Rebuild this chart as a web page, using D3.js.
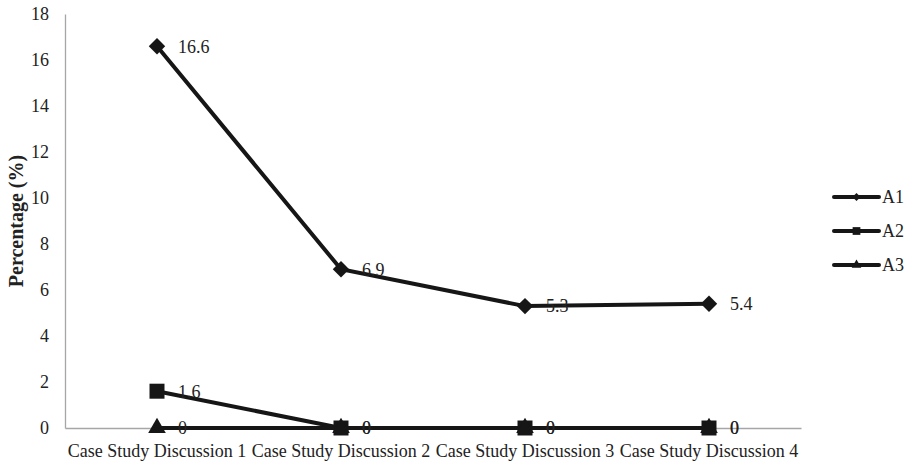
<!DOCTYPE html>
<html>
<head>
<meta charset="utf-8">
<script src="https://cdn.jsdelivr.net/npm/d3@7"></script>
<style>
  body { margin: 0; background: #fff; }
  svg { display: block; }
  svg text { font-family: "Liberation Serif", "Times New Roman", "DejaVu Serif", serif !important; }
</style>
</head>
<body>
<svg id="chart" width="910" height="461"></svg>
<script>
// Categories and series values
const categories = ["Case Study Discussion 1", "Case Study Discussion 2", "Case Study Discussion 3", "Case Study Discussion 4"];
const seriesNames = ["A1", "A2", "A3"];
const a1Values = [16.6, 6.9, 5.3, 5.4];
const a2Values = [1.6, 0, 0, 0];
const a3Values = [0, 0, 0, 0];
const yTicks = [0, 2, 4, 6, 8, 10, 12, 14, 16, 18];

const series = [
  { name: seriesNames[0], values: a1Values, symbol: d3.symbolSquare, rotate: 45, size: 135, legendSize: 34 },
  { name: seriesNames[1], values: a2Values, symbol: d3.symbolSquare, rotate: 0, size: 225, legendSize: 60 },
  { name: seriesNames[2], values: a3Values, symbol: d3.symbolTriangle, rotate: 0, size: 135, legendSize: 40 }
];

const svg = d3.select("#chart");
const plotLeft = 65, plotRight = 801, plotTop = 14, plotBottom = 428;
const ink = "#161616";
const textColor = "#222";
const fontSize = 18;

const x = d3.scaleBand().domain(categories).range([plotLeft, plotRight]);
const y = d3.scaleLinear().domain([0, 18]).range([plotBottom, plotTop]);

// Y axis: line plus numeric labels
const yAxis = svg.append("g")
  .attr("transform", `translate(${plotLeft},0)`)
  .call(d3.axisLeft(y).tickValues(yTicks).tickSize(0).tickPadding(16));
yAxis.select(".domain").attr("stroke", "#a6a6a6").attr("stroke-width", 1.3);
yAxis.selectAll("text").attr("font-size", fontSize).attr("fill", textColor);

// X axis
const xAxis = svg.append("g")
  .attr("transform", `translate(0,${plotBottom})`)
  .call(d3.axisBottom(x).tickSize(0).tickPadding(16));
xAxis.select(".domain").attr("stroke", "#a6a6a6").attr("stroke-width", 1.3);
xAxis.selectAll("text").attr("font-size", fontSize).attr("fill", textColor);

// Y axis title
svg.append("text")
  .attr("transform", `translate(23,${(plotTop + plotBottom) / 2}) rotate(-90)`)
  .attr("text-anchor", "middle")
  .attr("font-weight", "bold")
  .attr("font-size", 20)
  .attr("fill", textColor)
  .text("Percentage (%)");

const cx = c => x(c) + x.bandwidth() / 2;
const line = d3.line().x((d, i) => cx(categories[i])).y(d => y(d));

// Lines
series.forEach(s => {
  svg.append("path")
    .datum(s.values)
    .attr("d", line)
    .attr("fill", "none")
    .attr("stroke", ink)
    .attr("stroke-width", 4);
});

// Markers
series.forEach(s => {
  svg.append("g").selectAll("path")
    .data(s.values)
    .join("path")
    .attr("d", d3.symbol().type(s.symbol).size(s.size))
    .attr("transform", (d, i) => `translate(${cx(categories[i])},${y(d)}) rotate(${s.rotate})`)
    .attr("fill", ink);
});

// Value labels
series.forEach(s => {
  svg.append("g").selectAll("text")
    .data(s.values)
    .join("text")
    .attr("x", (d, i) => cx(categories[i]) + 21)
    .attr("y", d => y(d))
    .attr("dy", "0.35em")
    .attr("font-size", fontSize)
    .attr("fill", textColor)
    .text(d => d);
});

// Legend
const legend = svg.append("g");
series.forEach((s, i) => {
  const ly = 197 + i * 34;
  legend.append("line")
    .attr("x1", 834).attr("x2", 879)
    .attr("y1", ly).attr("y2", ly)
    .attr("stroke", ink)
    .attr("stroke-width", 4)
    .attr("stroke-linecap", "round");
  legend.append("path")
    .attr("d", d3.symbol().type(s.symbol).size(s.legendSize))
    .attr("transform", `translate(856.5,${ly}) rotate(${s.rotate})`)
    .attr("fill", ink);
  legend.append("text")
    .attr("x", 882).attr("y", ly)
    .attr("dy", "0.35em")
    .attr("font-size", fontSize)
    .attr("fill", textColor)
    .text(s.name);
});
</script>
</body>
</html>
